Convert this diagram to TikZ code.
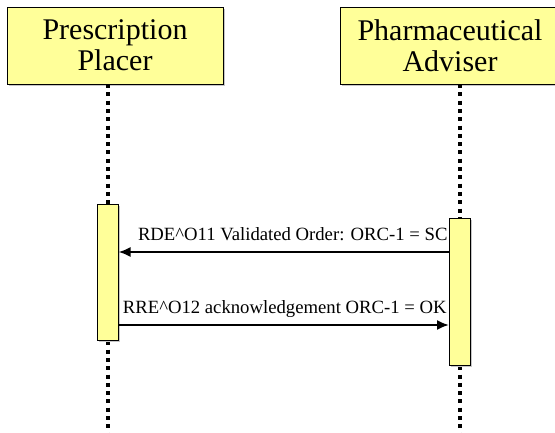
\documentclass[tikz,border=0pt]{standalone}
\usepackage{fontspec}
\setmainfont{Liberation Serif}
\usepackage{tikz}
\usetikzlibrary{arrows.meta,positioning,shadows}
\definecolor{lightyellow}{HTML}{FFFF99}
\tikzstyle{actor} = [rectangle, draw=black, line width=1pt, fill=lightyellow, minimum height=77pt, text centered, align=center, font=\fontsize{30}{31}\selectfont, drop shadow={shadow xshift=1.5pt, shadow yshift=-1.5pt, fill=gray!45, opacity=1}]
\tikzstyle{activation} = [rectangle, draw=black, line width=1pt, fill=lightyellow, minimum width=21pt, drop shadow={shadow xshift=1.5pt, shadow yshift=-1.5pt, fill=gray!45, opacity=1}]
\tikzstyle{lifeline} = [line width=4pt, dash pattern=on 4pt off 4.3pt]
\tikzstyle{message} = [-{Latex[length=12pt,width=10pt]}, line width=2pt]
\tikzstyle{msglabel} = [font=\fontsize{18.7}{21}\selectfont, inner sep=0pt, anchor=base, yshift=12pt]

\begin{document}
\begin{tikzpicture}[x=1pt,y=-1pt]
			\useasboundingbox (0,0) rectangle (555,432);
			\node[actor, minimum width=216pt] (placer) at (115,45.5) {Prescription\\Placer};
			\node[actor, minimum width=220pt] (adviser) at (450,45.5) {Pharmaceutical\\Adviser};
			
			%lifelines
			\coordinate (placerend) at (108,434);
			\coordinate (adviserend) at (460,434);
			\draw[lifeline] (108,84) -- (placerend);
			\draw[lifeline] (460,84) -- (adviserend);
			
			%activation boxes
			\node[activation, minimum height=136pt] (actplacer) at (107.5,272) {};
			\node[activation, minimum height=147pt] (actadviser) at (460,291.5) {};
			
			%messages
			\draw [message] (actadviser.west |- 0,252) -- node[msglabel, pos=0.5, xshift=9pt] {RDE\^{}O11 Validated Order: ORC-1 = SC} (actplacer.east |- 0,252);
			\draw [message] (actplacer.east |- 0,325) -- node[msglabel, pos=0.5, xshift=1pt] {RRE\^{}O12 acknowledgement ORC-1 = OK} (actadviser.west |- 0,325);
		\end{tikzpicture}
\end{document}
